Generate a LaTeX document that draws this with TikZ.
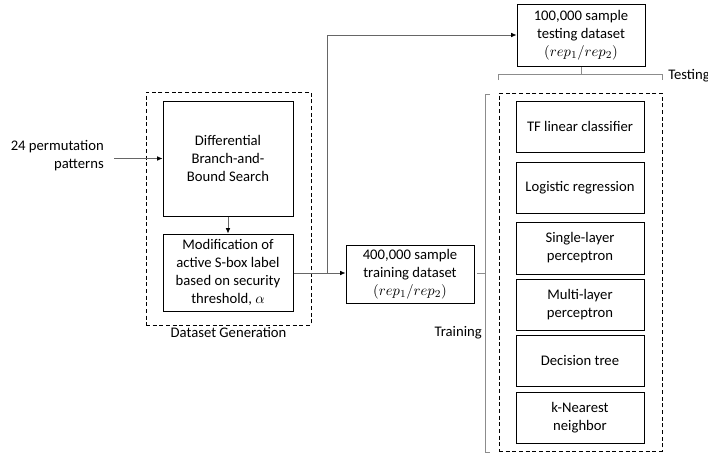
\documentclass[tikz,border=0pt]{standalone}
\usepackage{fontspec}
\setmainfont{Carlito}
\usetikzlibrary{arrows.meta}
\tikzset{
  box/.style={draw=black, line width=0.75pt, align=center, inner sep=0pt, font=\fontsize{11}{13.5}\selectfont},
  dashbox/.style={draw=black, line width=0.75pt, dash pattern=on 3pt off 2pt, inner sep=0pt},
  lbl/.style={align=center, inner sep=0pt, font=\fontsize{11}{13.5}\selectfont},
  conn/.style={draw=black!60, line width=0.6pt},
  arr/.style={conn, -{Latex[length=4pt,width=3.5pt,black]}},
  brace/.style={draw=black!45, line width=0.75pt}
}
\begin{document}
\begin{tikzpicture}[x=0.75pt,y=-0.75pt]
\clip (0,0) rectangle (708,454);
\fill[white] (0,0) rectangle (708,454);
% left dataset generation
\node[dashbox, minimum width=123.75pt, minimum height=174.75pt] (dg) at (228.5,208.5) {};
\node[lbl, anchor=north] (dglbl) at (228.5,327) {Dataset Generation};
\node[box, minimum width=97.5pt, minimum height=86.25pt] (b1) at (228,158.5) {Differential\\Branch-and-\\Bound Search};
\node[box, minimum width=97.5pt, minimum height=57.75pt] (b2) at (228,272.5) {Modification of\\active S-box label\\based on security\\threshold, $\alpha$};
\node[lbl, align=right, anchor=east, inner xsep=7.5pt] (perm) at (114,156) {24 permutation\\patterns};
\draw[arr] (perm.east |- b1.west) -- (b1.west);
\draw[arr] (b1.south) -- (b2.north);
% datasets
\node[box, minimum width=96pt, minimum height=43.5pt] (trn) at (410,274) {400,000 sample\\training dataset\\$(rep_1/rep_2)$};
\node[box, minimum width=96pt, minimum height=46.5pt] (tst) at (581,35) {100,000 sample\\testing dataset\\$(rep_1/rep_2)$};
\coordinate (j) at (327,273);
\draw[conn] (b2.east |- j) -- (j);
\draw[arr] (j) -- (j |- tst.west) -- (tst.west);
\draw[arr] (j) -- (trn.west |- j);
% models
\node[dashbox, minimum width=122.25pt, minimum height=268.5pt] (mdl) at (580.5,272) {};
\node[box, minimum width=96pt, minimum height=38.25pt] (m1) at (580,126.5) {TF linear classifier};
\node[box, minimum width=96pt, minimum height=38.25pt] (m2) at (580,187.5) {Logistic regression};
\node[box, minimum width=96pt, minimum height=39pt] (m3) at (580,248) {Single-layer\\perceptron};
\node[box, minimum width=96pt, minimum height=38.25pt] (m4) at (580,304.5) {Multi-layer\\perceptron};
\node[box, minimum width=96pt, minimum height=38.25pt] (m5) at (580,360.5) {Decision tree};
\node[box, minimum width=96pt, minimum height=38.25pt] (m6) at (580,417.5) {k-Nearest\\neighbor};
% training bracket
\coordinate (tb) at (485,273);
\draw[brace] (490,94) -- (485,94) -- (485,452) -- (490,452);
\draw[brace] (tb) -- (476.5,273);
\node[lbl, anchor=east] (trlbl) at (482,333) {Training};
% testing bracket
\coordinate (sb) at (581,74);
\draw[brace] (498,80) -- (498,74) -- (662,74) -- (662,80);
\draw[brace] (sb) -- (tst.south);
\node[lbl, anchor=west] (telbl) at (668,76) {Testing};
\end{tikzpicture}
\end{document}
